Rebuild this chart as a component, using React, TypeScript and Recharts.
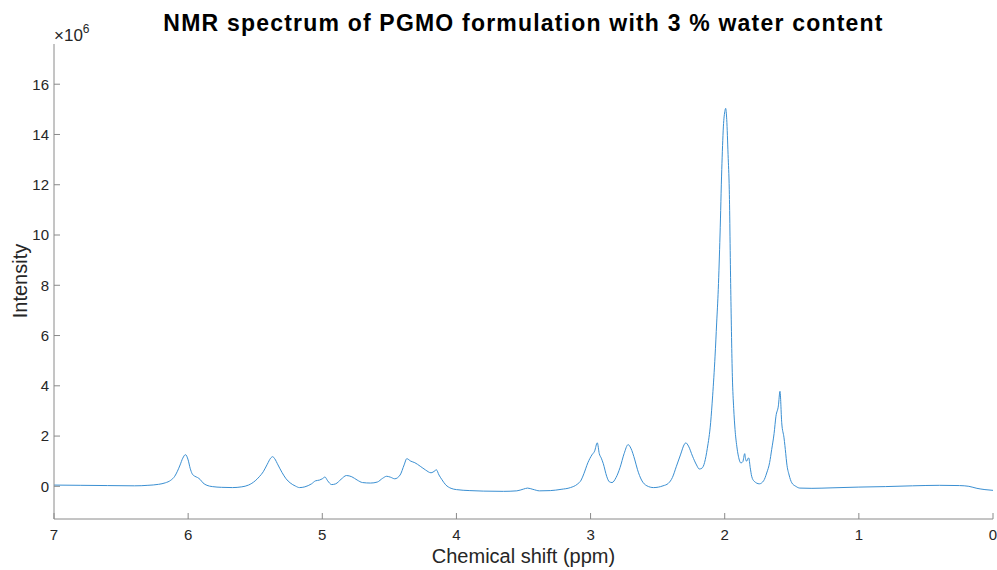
import { LineChart, Line, XAxis, YAxis } from 'recharts'

// chemical shift (ppm), descending
const ppm = [
  7.0, 6.8, 6.6, 6.4, 6.3, 6.22, 6.17, 6.13, 6.1, 6.08, 6.06, 6.04, 6.02, 6.0, 5.985, 5.97, 5.95, 5.93, 5.91, 5.89,
  5.86, 5.82, 5.75, 5.67, 5.6, 5.55, 5.5, 5.47, 5.44, 5.41, 5.385, 5.37, 5.355, 5.33, 5.3, 5.27, 5.24, 5.2, 5.17, 5.13,
  5.08, 5.05, 5.02, 5.0, 4.98, 4.96, 4.93, 4.9, 4.86, 4.82, 4.78, 4.74, 4.7, 4.64, 4.59, 4.55, 4.52, 4.49, 4.46, 4.42,
  4.39, 4.37, 4.34, 4.31, 4.27, 4.23, 4.19, 4.16, 4.15, 4.13, 4.11, 4.08, 4.04, 4.0, 3.9, 3.8, 3.65, 3.55, 3.5, 3.47,
  3.43, 3.38, 3.3, 3.22, 3.15, 3.1, 3.07, 3.05, 3.02, 2.99, 2.97, 2.95, 2.935, 2.92, 2.905, 2.88, 2.86, 2.84, 2.81, 2.78,
  2.75, 2.72, 2.7, 2.67, 2.65, 2.62, 2.58, 2.53, 2.46, 2.42, 2.39, 2.36, 2.33, 2.3, 2.29, 2.27, 2.24, 2.21, 2.19, 2.17,
  2.15, 2.13, 2.105, 2.09, 2.072, 2.06, 2.048, 2.035, 2.022, 2.01, 1.998, 1.993, 1.985, 1.975, 1.966, 1.955, 1.943, 1.933, 1.923, 1.91,
  1.898, 1.879, 1.865, 1.851, 1.843, 1.836, 1.828, 1.821, 1.81, 1.799, 1.78, 1.742, 1.71, 1.687, 1.665, 1.65, 1.632, 1.618, 1.6, 1.588,
  1.575, 1.558, 1.545, 1.538, 1.52, 1.5, 1.47, 1.44, 1.35, 1.2, 1.0, 0.8, 0.6, 0.4, 0.25, 0.18, 0.12, 0.06, 0.0,
]

// intensity, x10^6
const intensity = [
  0.05, 0.04, 0.03, 0.02, 0.04, 0.08, 0.14, 0.24, 0.4, 0.6, 0.85, 1.12, 1.26, 1.05, 0.72, 0.5, 0.4, 0.35, 0.27, 0.14,
  0.04, -0.01, -0.04, -0.05, -0.02, 0.05, 0.22, 0.38, 0.58, 0.88, 1.12, 1.18, 1.1, 0.85, 0.55, 0.3, 0.14, 0.01, -0.05, -0.02,
  0.1, 0.22, 0.25, 0.3, 0.37, 0.22, 0.07, 0.1, 0.28, 0.43, 0.38, 0.25, 0.15, 0.13, 0.17, 0.32, 0.4, 0.36, 0.3, 0.45,
  0.85, 1.1, 1.0, 0.94, 0.8, 0.65, 0.54, 0.62, 0.66, 0.45, 0.28, 0.06, -0.08, -0.13, -0.17, -0.19, -0.2, -0.18, -0.11, -0.07,
  -0.12, -0.18, -0.17, -0.12, -0.05, 0.08, 0.25, 0.5, 0.94, 1.25, 1.4, 1.73, 1.3, 1.12, 0.9, 0.4, 0.18, 0.15, 0.35, 0.75,
  1.3, 1.66, 1.52, 1.05, 0.66, 0.25, 0.02, -0.05, 0.02, 0.12, 0.35, 0.8, 1.25, 1.68, 1.73, 1.6, 1.2, 0.85, 0.69, 0.72,
  0.95, 1.5, 2.53, 3.6, 5.18, 6.5, 7.84, 10.0, 12.6, 14.3, 14.95, 15.04, 14.6, 13.2, 11.8, 7.84, 4.38, 3.1, 2.26, 1.6,
  1.2, 0.93, 0.98, 1.3, 1.05, 1.0, 1.1, 1.13, 0.75, 0.4, 0.2, 0.1, 0.22, 0.53, 0.95, 1.46, 2.1, 2.79, 3.2, 3.78,
  2.53, 1.93, 1.3, 0.93, 0.45, 0.14, 0.0, -0.07, -0.08, -0.06, -0.03, -0.01, 0.02, 0.04, 0.03, 0.0, -0.08, -0.13, -0.16,
]

const xTicks = [0, 1, 2, 3, 4, 5, 6, 7]
const yTicks = [0, 2, 4, 6, 8, 10, 12, 14, 16]

const data = ppm.map((p, i) => ({ ppm: p, intensity: intensity[i] }))

const font = '"Liberation Sans", Arial, Helvetica, sans-serif'
const axisColor = '#8a8a8a'
const textColor = '#262626'

export default function App() {
  return (
    <div style={{ position: 'relative', width: 997, height: 570, fontFamily: font, background: '#fff' }}>
      <style>{'body{margin:0}'}</style>
      <LineChart width={997} height={570} data={data} margin={{ top: 44, right: 4, left: 0, bottom: 0 }}>
        <XAxis
          xAxisId="bottom"
          dataKey="ppm"
          type="number"
          domain={[0, 7]}
          ticks={xTicks}
          reversed
          allowDataOverflow
          height={51}
          stroke={axisColor}
          tickSize={-6}
          tickMargin={16}
          tick={{ fill: textColor, fontSize: 15, fontFamily: font }}
        />
        <XAxis
          xAxisId="top"
          orientation="top"
          dataKey="ppm"
          type="number"
          domain={[0, 7]}
          ticks={xTicks}
          reversed
          allowDataOverflow
          height={0}
          stroke={axisColor}
          tickSize={-6}
          tickFormatter={() => ''}
        />
        <YAxis
          yAxisId="left"
          type="number"
          domain={[-1.3, 17.6]}
          ticks={yTicks}
          allowDataOverflow
          width={54}
          stroke={axisColor}
          tickSize={-6}
          tickMargin={11}
          tick={{ fill: textColor, fontSize: 15, fontFamily: font }}
        />
        <YAxis
          yAxisId="right"
          orientation="right"
          type="number"
          domain={[-1.3, 17.6]}
          ticks={yTicks}
          allowDataOverflow
          width={0}
          stroke={axisColor}
          tickSize={-6}
          tickFormatter={() => ''}
        />
        <Line
          xAxisId="bottom"
          yAxisId="left"
          dataKey="intensity"
          type="monotone"
          stroke="#3a8fd2"
          strokeWidth={1}
          dot={false}
          activeDot={false}
          isAnimationActive={false}
        />
      </LineChart>
      <div
        style={{
          position: 'absolute',
          left: 54,
          width: 939,
          top: 10,
          textAlign: 'center',
          fontWeight: 'bold',
          fontSize: 23,
          letterSpacing: 1.2,
          color: '#000',
          whiteSpace: 'nowrap',
        }}
      >
        NMR spectrum of PGMO formulation with 3 % water content
      </div>
      <div style={{ position: 'absolute', left: 54, top: 26, fontSize: 17, color: textColor, whiteSpace: 'nowrap' }}>
        <span>×10</span>
        <span style={{ fontSize: 12, position: 'relative', top: -8 }}>6</span>
      </div>
      <div
        style={{
          position: 'absolute',
          left: 54,
          width: 939,
          top: 545,
          textAlign: 'center',
          fontSize: 20,
          color: textColor,
        }}
      >
        Chemical shift (ppm)
      </div>
      <div
        style={{
          position: 'absolute',
          left: 20,
          top: 281,
          transform: 'translate(-50%, -50%) rotate(-90deg)',
          fontSize: 20,
          color: textColor,
          whiteSpace: 'nowrap',
        }}
      >
        Intensity
      </div>
    </div>
  )
}
